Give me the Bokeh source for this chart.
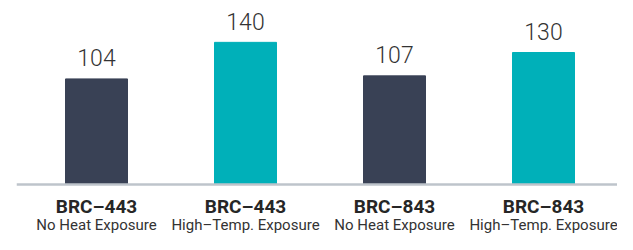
from bokeh.plotting import figure
from bokeh.models import ColumnDataSource, Range1d, Span
from bokeh.core.properties import value
from bokeh.embed import file_html
from bokeh.resources import INLINE

# ---- data ----
products = ["BRC\u2013443", "BRC\u2013443", "BRC\u2013843", "BRC\u2013843"]
conditions = ["No Heat Exposure", "High\u2013Temp. Exposure", "No Heat Exposure", "High\u2013Temp. Exposure"]
values = [104, 140, 107, 130]
labels = ["104", "140", "107", "130"]
colors = ["#394155", "#00b0b9", "#394155", "#00b0b9"]

xs = list(range(len(values)))
src = ColumnDataSource(dict(x=xs, top=values, label=labels, color=colors,
                            product=products, condition=conditions))

PX_PER_X = 149.0
PX_PER_Y = 1.0153
LEFT = 16
FRAME_W = 617 - LEFT
FRAME_H = 234
X0_PX = 80      # first bar centre from frame left
BASE_PX = 184   # baseline from frame top

p = figure(width=617, height=234, output_backend="svg", toolbar_location=None,
           x_axis_location=None, y_axis_location=None,
           x_range=Range1d(-X0_PX / PX_PER_X, (FRAME_W - X0_PX) / PX_PER_X),
           y_range=Range1d(-(FRAME_H - BASE_PX) / PX_PER_Y, BASE_PX / PX_PER_Y),
           min_border=0, min_border_left=LEFT)
p.outline_line_color = None
p.grid.visible = False
p.background_fill_color = "white"
p.border_fill_color = "white"

p.vbar(x="x", top="top", bottom=0, width=62 / PX_PER_X, color="color", source=src)

p.add_layout(Span(location=0, dimension="width", line_color="#bec4cb", line_width=2.5))

p.text(x="x", y="top", text="label", source=src, text_align="center",
       text_baseline="alphabetic", y_offset=-21, text_font=value("Roboto Light, Roboto"),
       text_font_size="23px", text_color="#333333")

p.text(x="x", y=0, text="product", source=src, text_align="center",
       text_baseline="alphabetic", y_offset=21.5, text_font=value("Roboto"),
       text_font_style="bold", text_font_size="19px", text_color="#262626")

p.text(x="x", y=0, text="condition", source=src, text_align="center",
       text_baseline="alphabetic", y_offset=40, text_font=value("Roboto"),
       text_font_size="15px", text_color="#333333")

open("out.html", "w").write(file_html(p, INLINE))
